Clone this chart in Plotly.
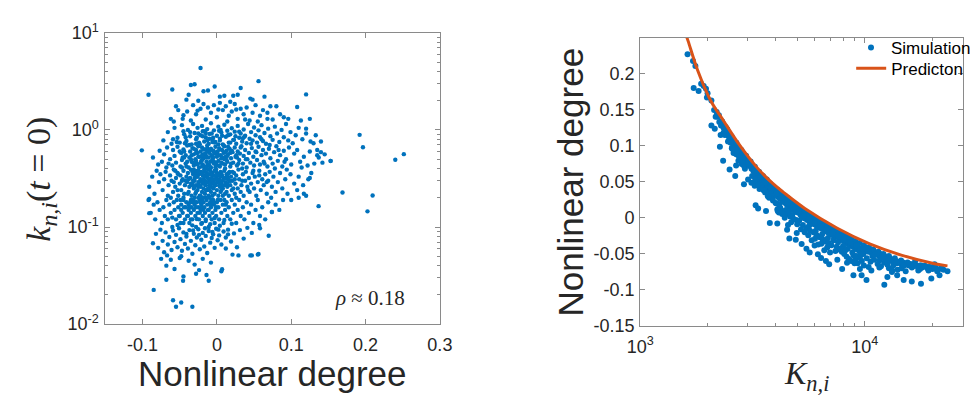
import plotly.graph_objects as go

# ---------------- Left panel: nonlinear degree vs k_{n,i}(t=0) ----------------
LEFT_POINTS = [
    # sparse top (k > 2)
    (-0.022, 4.34), (-0.092, 2.30), (0.056, 3.18), (0.120, 2.32), (-0.060, 2.61), (-0.035, 2.9), (-0.030, 2.95),
    (-0.003, 2.8), (-0.018, 2.5), (-0.012, 2.55), (0.032, 2.7), (0.028, 2.3), (0.045, 2.1), (0.064, 2.2),
    (0.004, 2.2), (0.010, 2.25), (-0.041, 2.05), (-0.038, 2.3), (0.022, 2.25), (-0.025, 2.0), (0.048, 2.05),
    # 1.2 - 2
    (-0.055, 1.75), (-0.052, 1.6), (-0.046, 1.3), (-0.040, 1.55), (-0.032, 1.8), (-0.028, 1.45), (-0.022, 1.65),
    (-0.018, 1.85), (-0.012, 1.7), (-0.008, 1.5), (-0.004, 1.8), (0.000, 1.35), (0.004, 1.9), (0.008, 1.6),
    (0.012, 1.75), (0.016, 1.4), (0.020, 1.55), (0.024, 1.85), (0.028, 1.3), (0.032, 1.65), (0.036, 1.45),
    (0.040, 1.7), (0.044, 1.25), (0.048, 1.5), (0.052, 1.8), (0.058, 1.4), (0.062, 1.6), (0.068, 1.3),
    (0.072, 1.75), (0.080, 1.75), (0.085, 1.45), (0.090, 1.35), (0.096, 1.3), (0.108, 1.72), (0.113, 1.25),
    (0.125, 1.3), (-0.062, 1.3), (-0.058, 1.22), (-0.035, 1.25), (-0.015, 1.28), (0.002, 1.62), (-0.026, 1.58),
    (0.014, 1.22), (0.026, 1.62), (0.038, 1.28), (0.055, 1.22), (-0.045, 1.42), (0.075, 1.28), (0.068, 1.5),
    (0.018, 1.95),
    # 0.7 - 1.2
    (-0.072, 0.78), (-0.066, 0.95), (-0.061, 0.72), (-0.057, 1.05), (-0.053, 0.83), (-0.050, 0.74), (-0.047, 1.12),
    (-0.044, 0.9), (-0.041, 0.77), (-0.039, 1.0), (-0.036, 0.86), (-0.034, 0.71), (-0.032, 1.15), (-0.030, 0.93),
    (-0.028, 0.8), (-0.026, 1.05), (-0.024, 0.74), (-0.022, 0.88), (-0.020, 1.1), (-0.019, 0.97), (-0.017, 0.76),
    (-0.015, 0.84), (-0.013, 1.02), (-0.011, 0.72), (-0.010, 0.91), (-0.008, 1.17), (-0.006, 0.8), (-0.004, 0.99),
    (-0.002, 0.75), (0.000, 0.87), (0.002, 1.08), (0.004, 0.78), (0.006, 0.94), (0.008, 0.71), (0.010, 1.13),
    (0.012, 0.85), (0.014, 0.98), (0.016, 0.74), (0.018, 0.9), (0.020, 1.04), (0.022, 0.79), (0.024, 0.96),
    (0.026, 0.72), (0.028, 1.1), (0.030, 0.83), (0.032, 0.92), (0.034, 0.76), (0.036, 1.01), (0.038, 0.87),
    (0.040, 0.73), (0.042, 1.15), (0.044, 0.81), (0.046, 0.95), (0.048, 0.78), (0.050, 1.06), (0.052, 0.88),
    (0.054, 0.74), (0.056, 0.99), (0.058, 0.84), (0.060, 1.12), (0.062, 0.77), (0.064, 0.93), (0.066, 0.72),
    (0.069, 1.03), (0.072, 0.86), (0.075, 0.79), (0.078, 1.08), (0.081, 0.92), (0.084, 0.75), (0.087, 1.0),
    (0.090, 0.84), (0.093, 1.15), (0.096, 0.78), (0.099, 0.95), (0.102, 0.73), (0.106, 0.88), (0.110, 1.05),
    (0.115, 0.8), (0.120, 0.92), (0.126, 0.76), (0.133, 0.88), (0.140, 0.76), (-0.025, 0.92), (-0.005, 0.83),
    (0.015, 0.88), (0.035, 0.82), (-0.045, 0.97), (0.005, 1.0), (0.025, 0.86), (-0.015, 0.93),
    # 0.4 - 0.7
    (-0.086, 0.52), (-0.079, 0.44), (-0.077, 0.61), (-0.074, 0.47), (-0.071, 0.56), (-0.068, 0.41), (-0.067, 0.66),
    (-0.063, 0.5), (-0.060, 0.43), (-0.059, 0.62), (-0.057, 0.54), (-0.055, 0.46), (-0.053, 0.67), (-0.049, 0.42),
    (-0.048, 0.58), (-0.047, 0.49), (-0.045, 0.63), (-0.042, 0.45), (-0.042, 0.55), (-0.040, 0.69), (-0.038, 0.41),
    (-0.037, 0.52), (-0.036, 0.6), (-0.034, 0.47), (-0.033, 0.65), (-0.031, 0.43), (-0.031, 0.56), (-0.029, 0.5),
    (-0.028, 0.62), (-0.027, 0.45), (-0.026, 0.58), (-0.025, 0.68), (-0.024, 0.41), (-0.023, 0.53), (-0.022, 0.6),
    (-0.021, 0.48), (-0.020, 0.66), (-0.019, 0.44), (-0.019, 0.56), (-0.018, 0.51), (-0.017, 0.63), (-0.016, 0.42),
    (-0.015, 0.55), (-0.014, 0.47), (-0.013, 0.6), (-0.013, 0.69), (-0.012, 0.44), (-0.011, 0.52), (-0.010, 0.58),
    (-0.009, 0.47), (-0.008, 0.64), (-0.008, 0.41), (-0.007, 0.55), (-0.006, 0.5), (-0.005, 0.61), (-0.004, 0.45),
    (-0.003, 0.57), (-0.002, 0.67), (-0.001, 0.43), (0.000, 0.53), (0.001, 0.6), (0.002, 0.48), (0.003, 0.65),
    (0.004, 0.42), (0.005, 0.55), (0.006, 0.51), (0.007, 0.62), (0.008, 0.45), (0.009, 0.58), (0.010, 0.68),
    (0.011, 0.44), (0.012, 0.53), (0.013, 0.61), (0.014, 0.47), (0.015, 0.56), (0.017, 0.64), (0.018, 0.42),
    (0.019, 0.51), (0.021, 0.59), (0.022, 0.46), (0.024, 0.66), (0.025, 0.53), (0.027, 0.43), (0.028, 0.6),
    (0.030, 0.49), (0.031, 0.57), (0.033, 0.68), (0.035, 0.45), (0.036, 0.54), (0.038, 0.62), (0.040, 0.41),
    (0.041, 0.5), (0.043, 0.58), (0.045, 0.46), (0.047, 0.65), (0.049, 0.53), (0.050, 0.43), (0.052, 0.6),
    (0.054, 0.49), (0.056, 0.67), (0.058, 0.44), (0.060, 0.55), (0.062, 0.62), (0.063, 0.47), (0.066, 0.57),
    (0.068, 0.42), (0.070, 0.64), (0.072, 0.51), (0.075, 0.45), (0.077, 0.59), (0.080, 0.68), (0.082, 0.48),
    (0.085, 0.55), (0.088, 0.42), (0.090, 0.61), (0.093, 0.5), (0.097, 0.66), (0.100, 0.44), (0.104, 0.57),
    (0.108, 0.62), (0.112, 0.47), (0.117, 0.53), (0.122, 0.43), (0.125, 0.6), (0.131, 0.45), (0.135, 0.55),
    (0.142, 0.46), (0.153, 0.48), (0.137, 0.52), (0.114, 0.41), (-0.035, 0.5), (-0.020, 0.54), (-0.005, 0.52),
    (0.010, 0.5), (0.026, 0.55), (-0.028, 0.48), (-0.012, 0.62), (0.004, 0.63), (0.018, 0.58), (-0.044, 0.52),
    # 0.2 - 0.4 (densest)
    (-0.091, 0.26), (-0.087, 0.33), (-0.084, 0.22), (-0.081, 0.38), (-0.078, 0.29), (-0.076, 0.35), (-0.073, 0.24),
    (-0.071, 0.31), (-0.069, 0.37), (-0.066, 0.21), (-0.065, 0.27), (-0.063, 0.34), (-0.061, 0.3), (-0.059, 0.23),
    (-0.058, 0.39), (-0.056, 0.26), (-0.055, 0.32), (-0.053, 0.36), (-0.052, 0.21), (-0.050, 0.28), (-0.049, 0.34),
    (-0.048, 0.24), (-0.046, 0.31), (-0.045, 0.38), (-0.044, 0.22), (-0.043, 0.27), (-0.041, 0.33), (-0.040, 0.29),
    (-0.039, 0.36), (-0.038, 0.23), (-0.037, 0.26), (-0.036, 0.32), (-0.035, 0.39), (-0.034, 0.21), (-0.033, 0.28),
    (-0.032, 0.35), (-0.031, 0.25), (-0.030, 0.3), (-0.029, 0.37), (-0.029, 0.22), (-0.028, 0.27), (-0.027, 0.33),
    (-0.026, 0.24), (-0.026, 0.38), (-0.025, 0.29), (-0.024, 0.35), (-0.023, 0.21), (-0.022, 0.26), (-0.022, 0.31),
    (-0.021, 0.37), (-0.020, 0.23), (-0.019, 0.28), (-0.019, 0.34), (-0.018, 0.25), (-0.017, 0.39), (-0.016, 0.3),
    (-0.016, 0.22), (-0.015, 0.27), (-0.014, 0.33), (-0.014, 0.36), (-0.013, 0.24), (-0.012, 0.29), (-0.011, 0.35),
    (-0.011, 0.21), (-0.010, 0.31), (-0.009, 0.26), (-0.009, 0.38), (-0.008, 0.23), (-0.007, 0.32), (-0.007, 0.28),
    (-0.006, 0.36), (-0.005, 0.25), (-0.004, 0.3), (-0.004, 0.34), (-0.003, 0.22), (-0.002, 0.27), (-0.001, 0.33),
    (-0.001, 0.39), (0.000, 0.24), (0.001, 0.29), (0.002, 0.35), (0.002, 0.21), (0.003, 0.31), (0.004, 0.26),
    (0.005, 0.37), (0.005, 0.23), (0.006, 0.28), (0.007, 0.34), (0.008, 0.25), (0.009, 0.32), (0.010, 0.38),
    (0.011, 0.22), (0.012, 0.29), (0.013, 0.35), (0.014, 0.26), (0.015, 0.31), (0.016, 0.21), (0.017, 0.37),
    (0.018, 0.27), (0.019, 0.33), (0.020, 0.24), (0.021, 0.3), (0.023, 0.36), (0.024, 0.22), (0.025, 0.28),
    (0.026, 0.34), (0.028, 0.25), (0.029, 0.39), (0.030, 0.31), (0.032, 0.23), (0.033, 0.27), (0.035, 0.35),
    (0.036, 0.21), (0.038, 0.3), (0.039, 0.37), (0.041, 0.26), (0.043, 0.32), (0.044, 0.23), (0.046, 0.28),
    (0.048, 0.36), (0.050, 0.25), (0.051, 0.33), (0.053, 0.21), (0.055, 0.29), (0.057, 0.38), (0.059, 0.24),
    (0.061, 0.31), (0.063, 0.27), (0.065, 0.35), (0.067, 0.22), (0.069, 0.3), (0.071, 0.37), (0.074, 0.26),
    (0.076, 0.33), (0.079, 0.23), (0.082, 0.29), (0.085, 0.36), (0.088, 0.25), (0.092, 0.31), (0.095, 0.22),
    (0.099, 0.35), (0.104, 0.28), (0.110, 0.33), (0.116, 0.27), (0.123, 0.31), (0.127, 0.36), (0.108, 0.24),
    (0.094, 0.39), (0.117, 0.22), (0.073, 0.20), (-0.030, 0.32), (-0.025, 0.26), (-0.020, 0.3), (-0.015, 0.34),
    (-0.010, 0.27), (-0.005, 0.29), (0.000, 0.31), (0.005, 0.33), (-0.035, 0.28), (-0.018, 0.31), (-0.012, 0.32),
    (-0.008, 0.3), (-0.003, 0.28), (0.003, 0.27), (0.008, 0.3), (-0.024, 0.29), (-0.042, 0.3), (0.012, 0.32),
    (-0.028, 0.35), (0.018, 0.3), (-0.006, 0.31), (-0.017, 0.28), (0.000, 0.36), (-0.010, 0.24), (-0.020, 0.36),
    (0.006, 0.24), (-0.032, 0.3), (0.014, 0.28), (-0.014, 0.29), (-0.004, 0.26),
    # 0.1 - 0.2
    (-0.092, 0.19), (-0.089, 0.14), (-0.085, 0.17), (-0.083, 0.12), (-0.080, 0.18), (-0.077, 0.15), (-0.074, 0.11),
    (-0.072, 0.16), (-0.070, 0.13), (-0.068, 0.19), (-0.066, 0.12), (-0.064, 0.17), (-0.062, 0.14), (-0.060, 0.10),
    (-0.058, 0.18), (-0.057, 0.15), (-0.055, 0.12), (-0.054, 0.19), (-0.052, 0.16), (-0.050, 0.13), (-0.049, 0.11),
    (-0.048, 0.17), (-0.046, 0.14), (-0.045, 0.19), (-0.043, 0.12), (-0.042, 0.16), (-0.041, 0.18), (-0.040, 0.13),
    (-0.038, 0.15), (-0.037, 0.11), (-0.036, 0.18), (-0.035, 0.14), (-0.034, 0.16), (-0.033, 0.12), (-0.032, 0.19),
    (-0.031, 0.15), (-0.030, 0.17), (-0.029, 0.13), (-0.028, 0.10), (-0.027, 0.18), (-0.026, 0.14), (-0.025, 0.16),
    (-0.024, 0.12), (-0.023, 0.19), (-0.022, 0.15), (-0.021, 0.17), (-0.020, 0.11), (-0.019, 0.13), (-0.018, 0.18),
    (-0.017, 0.16), (-0.016, 0.14), (-0.015, 0.12), (-0.014, 0.19), (-0.013, 0.17), (-0.012, 0.15), (-0.011, 0.10),
    (-0.010, 0.13), (-0.009, 0.18), (-0.008, 0.16), (-0.007, 0.12), (-0.006, 0.14), (-0.005, 0.19), (-0.004, 0.17),
    (-0.003, 0.11), (-0.002, 0.15), (-0.001, 0.13), (0.000, 0.18), (0.002, 0.16), (0.003, 0.12), (0.005, 0.19),
    (0.006, 0.14), (0.008, 0.17), (0.009, 0.11), (0.011, 0.15), (0.013, 0.18), (0.014, 0.13), (0.016, 0.16),
    (0.018, 0.12), (0.020, 0.19), (0.022, 0.14), (0.024, 0.17), (0.026, 0.11), (0.028, 0.15), (0.030, 0.19),
    (0.032, 0.13), (0.035, 0.16), (0.037, 0.12), (0.040, 0.18), (0.043, 0.14), (0.046, 0.17), (0.049, 0.11),
    (0.052, 0.15), (0.055, 0.19), (0.058, 0.13), (0.061, 0.16), (0.065, 0.12), (0.069, 0.18), (0.074, 0.143),
    (0.079, 0.17), (0.084, 0.15), (0.089, 0.19), (0.057, 0.105), (0.058, 0.097), (-0.091, 0.139), (-0.091, 0.194),
    (-0.030, 0.20), (-0.020, 0.19), (-0.010, 0.20), (-0.045, 0.20), (0.010, 0.19), (-0.035, 0.19), (-0.025, 0.20),
    (-0.015, 0.20), (-0.038, 0.17), (-0.028, 0.16), (-0.018, 0.15), (-0.008, 0.17), (-0.048, 0.15), (-0.022, 0.18),
    (-0.033, 0.18),
    # 0.05 - 0.1
    (-0.086, 0.068), (-0.082, 0.085), (-0.079, 0.061), (-0.076, 0.094), (-0.073, 0.072), (-0.071, 0.055),
    (-0.069, 0.088), (-0.066, 0.066), (-0.064, 0.079), (-0.061, 0.058), (-0.059, 0.092), (-0.057, 0.070),
    (-0.055, 0.083), (-0.053, 0.062), (-0.051, 0.097), (-0.049, 0.075), (-0.047, 0.057), (-0.045, 0.088),
    (-0.043, 0.067), (-0.041, 0.080), (-0.039, 0.060), (-0.037, 0.093), (-0.035, 0.072), (-0.033, 0.053),
    (-0.031, 0.085), (-0.029, 0.065), (-0.027, 0.078), (-0.025, 0.095), (-0.023, 0.059), (-0.021, 0.074),
    (-0.019, 0.087), (-0.017, 0.063), (-0.015, 0.081), (-0.013, 0.054), (-0.011, 0.091), (-0.009, 0.069),
    (-0.007, 0.077), (-0.005, 0.084), (-0.003, 0.061), (-0.001, 0.096), (0.001, 0.073), (0.003, 0.082),
    (0.006, 0.066), (0.009, 0.090), (0.012, 0.078), (0.015, 0.094), (0.019, 0.071), (0.023, 0.086),
    (0.027, 0.062), (0.031, 0.093), (0.036, 0.076), (0.041, 0.098), (0.047, 0.087), (0.021, 0.052),
    (0.029, 0.051), (0.045, 0.051), (0.055, 0.052), (-0.067, 0.051), (-0.048, 0.050), (0.012, 0.060),
    # below 0.05
    (-0.085, 0.0225), (-0.059, 0.0176), (-0.055, 0.0151), (-0.048, 0.0167), (-0.033, 0.0151), (-0.068, 0.0286),
    (-0.0455, 0.028), (-0.011, 0.028), (0.007, 0.0368), (-0.068, 0.040), (-0.057, 0.037), (-0.045, 0.031),
    (-0.038, 0.045), (-0.030, 0.041), (-0.024, 0.036), (-0.019, 0.047), (-0.014, 0.032), (-0.008, 0.043),
    (-0.062, 0.046), (-0.050, 0.048), (-0.028, 0.033), (0.006, 0.035), (-0.075, 0.047),
    # outliers
    (-0.101, 0.616), (0.192, 0.89), (0.1965, 0.664), (0.2515, 0.563), (0.240, 0.493), (0.169, 0.227),
    (0.2095, 0.211), (0.2026, 0.145), (0.1368, 0.164), (0.153, 0.478), (0.056, 0.0527), (0.0697, 0.0813),
    (0.047, 0.051), (0.074, 0.143), (0.120, 0.21), (0.110, 0.20), (0.100, 0.19), (0.125, 0.32), (0.140, 0.59),
    (0.145, 0.56), (0.130, 0.73), (0.120, 1.03), (0.135, 0.62),
    # extra core points
    (-0.047, 0.41), (-0.043, 0.73), (-0.039, 0.22), (-0.036, 0.95), (-0.033, 0.37), (-0.031, 0.64), (-0.029, 0.18),
    (-0.027, 0.83), (-0.026, 0.44), (-0.024, 0.27), (-0.023, 0.71), (-0.021, 0.16), (-0.020, 0.49), (-0.019, 0.86),
    (-0.017, 0.33), (-0.016, 0.57), (-0.015, 0.24), (-0.013, 0.78), (-0.012, 0.39), (-0.011, 0.15), (-0.009, 0.62),
    (-0.008, 0.35), (-0.007, 0.92), (-0.006, 0.21), (-0.004, 0.47), (-0.003, 0.74), (-0.002, 0.31), (0.000, 0.58),
    (0.001, 0.19), (0.003, 0.43), (0.004, 0.81), (0.006, 0.36), (0.007, 0.26), (0.009, 0.69), (0.011, 0.40),
    (0.012, 0.17), (0.014, 0.54), (0.016, 0.89), (0.017, 0.30), (0.019, 0.45), (-0.052, 0.35), (-0.049, 0.19),
    (-0.044, 0.60), (-0.041, 0.42), (-0.037, 0.16), (-0.034, 0.55), (-0.030, 0.26), (-0.028, 0.72), (-0.025, 0.38),
    (-0.022, 0.21), (-0.018, 0.63), (-0.014, 0.41), (-0.010, 0.81), (-0.005, 0.18), (-0.001, 0.46), (0.002, 0.71),
    (0.005, 0.29), (0.008, 0.52), (0.013, 0.23), (0.015, 0.67), (0.021, 0.37), (0.023, 0.79), (0.026, 0.20),
    (0.029, 0.45), (0.032, 0.66), (0.034, 0.30), (0.037, 0.85), (0.039, 0.50), (0.042, 0.24), (0.046, 0.72),
    (0.049, 0.38), (0.053, 0.59), (0.057, 0.34), (0.060, 0.80), (0.064, 0.45), (0.067, 0.29), (0.071, 0.70),
    (0.078, 0.40), (0.083, 0.62), (0.091, 0.47), (-0.058, 0.29), (-0.054, 0.75), (-0.051, 0.13), (-0.046, 0.52),
    (-0.042, 0.84), (-0.038, 0.31), (-0.035, 0.12), (-0.032, 0.46), (-0.028, 0.58), (-0.026, 0.33), (-0.023, 0.14),
    (-0.020, 0.42), (-0.017, 0.97), (-0.014, 0.52), (-0.012, 0.25), (-0.009, 0.40), (-0.006, 0.75), (-0.003, 0.38),
    (-0.001, 0.16), (0.002, 0.55), (0.004, 0.34), (0.007, 0.87), (0.010, 0.27), (0.013, 0.49), (0.016, 0.36),
    (0.020, 0.61), (0.024, 0.31), (0.027, 0.52), (0.030, 0.96), (0.034, 0.40), (-0.065, 0.45), (-0.062, 0.20),
    (-0.059, 0.80), (-0.056, 0.38), (-0.053, 0.24), (-0.050, 0.60), (-0.047, 0.30), (-0.044, 0.16), (-0.040, 0.47),
    (-0.037, 0.70), (-0.034, 0.27), (-0.031, 0.39), (-0.028, 0.23), (-0.025, 0.53), (-0.022, 0.46), (-0.019, 0.20),
    (-0.016, 0.37), (-0.013, 0.65), (-0.010, 0.43), (-0.007, 0.19), (-0.004, 0.60), (-0.002, 0.41), (0.001, 0.35),
    (0.003, 0.98), (0.006, 0.46), (0.008, 0.21), (0.011, 0.59), (0.014, 0.33), (0.018, 0.74), (0.022, 0.25),
    (-0.045, 0.110), (-0.039, 0.130), (-0.033, 0.104), (-0.027, 0.121), (-0.021, 0.108), (-0.015, 0.115),
    (-0.009, 0.107), (-0.003, 0.124), (0.004, 0.103), (0.010, 0.118), (-0.041, 0.085), (-0.032, 0.092),
    (-0.024, 0.083), (-0.016, 0.097), (-0.006, 0.089), (0.002, 0.094), (0.015, 0.084), (-0.053, 0.105),
    (-0.060, 0.125), (0.020, 0.108),
]
left_nd = [p[0] for p in LEFT_POINTS]
left_k = [p[1] for p in LEFT_POINTS]

# ---------------- Right panel: K_{n,i} vs nonlinear degree ----------------
RIGHT_POINTS = [
    # upper branch
    (1625, 0.227), (1718, 0.2175), (1761, 0.2106), (1730, 0.180), (1820, 0.1757), (1868, 0.1858), (1917, 0.1828),
    (1963, 0.179), (1995, 0.1727), (1982, 0.167), (2075, 0.1627), (2133, 0.1496), (2190, 0.1466), (2167, 0.140),
    (2240, 0.1423), (2075, 0.128), (2148, 0.1235), (2317, 0.1336), (2357, 0.127), (2280, 0.1149), (2437, 0.1227),
    (2478, 0.114), (2264, 0.0987), (2518, 0.105), (2560, 0.0966), (2604, 0.090), (2340, 0.079), (2692, 0.0879),
    (2737, 0.079), (2500, 0.067), (2673, 0.0726), (2829, 0.0748), (2926, 0.068), (2649, 0.058), (2897, 0.0465),
    (3022, 0.053), (3126, 0.0487), (3234, 0.0444), (3398, 0.040), (3632, 0.0379),
    (3265, 0.0174), (3350, 0.013), (3632, 0.0095), (3777, -0.007),
    # dense band 2200-3000
    (2210, 0.140), (2250, 0.133), (2290, 0.128), (2320, 0.131), (2350, 0.125), (2380, 0.121), (2400, 0.126),
    (2420, 0.117), (2450, 0.119), (2470, 0.113), (2500, 0.115), (2520, 0.108), (2540, 0.111), (2570, 0.104),
    (2600, 0.107), (2620, 0.101), (2650, 0.103), (2680, 0.097), (2700, 0.099), (2720, 0.094), (2750, 0.096),
    (2780, 0.090), (2800, 0.093), (2830, 0.087), (2860, 0.089), (2890, 0.083), (2920, 0.085), (2950, 0.079),
    (2980, 0.081), (3010, 0.075), (2460, 0.106), (2560, 0.097), (2660, 0.089), (2760, 0.084), (2870, 0.077),
    (2350, 0.118), (2600, 0.094), (2900, 0.072),
    # dense band 3000-4000
    (3040, 0.078), (3070, 0.072), (3100, 0.075), (3130, 0.068), (3160, 0.071), (3190, 0.065), (3220, 0.068),
    (3250, 0.061), (3280, 0.064), (3310, 0.058), (3340, 0.062), (3370, 0.055), (3400, 0.059), (3430, 0.052),
    (3460, 0.056), (3490, 0.049), (3520, 0.053), (3550, 0.047), (3580, 0.050), (3610, 0.044), (3640, 0.048),
    (3670, 0.041), (3700, 0.045), (3730, 0.039), (3760, 0.043), (3790, 0.036), (3820, 0.040), (3850, 0.034),
    (3880, 0.038), (3910, 0.031), (3150, 0.058), (3300, 0.050), (3450, 0.043), (3600, 0.035), (3750, 0.028),
    (3900, 0.024), (3250, 0.054), (3550, 0.038), (3350, 0.046), (3700, 0.030),
    # dense band 4000-5000
    (3950, 0.035), (4000, 0.032), (4050, 0.036), (4100, 0.029), (4150, 0.033), (4200, 0.026), (4250, 0.030),
    (4300, 0.023), (4350, 0.028), (4400, 0.021), (4450, 0.025), (4500, 0.018), (4550, 0.022), (4600, 0.016),
    (4650, 0.020), (4700, 0.013), (4760, 0.017), (4820, 0.011), (4880, 0.014), (4940, 0.008), (5000, 0.012),
    (4050, 0.020), (4200, 0.014), (4350, 0.009), (4500, 0.005), (4650, 0.002), (4800, -0.001), (4950, -0.003),
    (4150, 0.018), (4450, 0.011), (4750, 0.004), (4100, 0.009), (4400, 0.000), (4700, -0.006), (4550, -0.010),
    (4600, 0.009),
    # dense band 5000-7400
    (5060, 0.007), (5120, 0.010), (5180, 0.004), (5240, 0.008), (5300, 0.002), (5360, 0.005), (5420, -0.001),
    (5480, 0.003), (5540, -0.003), (5600, 0.000), (5670, -0.005), (5740, -0.002), (5810, -0.007), (5880, -0.004),
    (5950, -0.009), (6020, -0.006), (6100, -0.011), (6180, -0.008), (6260, -0.013), (6340, -0.010), (6420, -0.015),
    (6500, -0.012), (6580, -0.017), (6660, -0.014), (6740, -0.019), (6820, -0.016), (6900, -0.021), (6990, -0.018),
    (7080, -0.023), (7170, -0.020), (7260, -0.025), (7350, -0.022),
    (5100, -0.004), (5300, -0.010), (5500, -0.014), (5700, -0.018), (5900, -0.020), (6100, -0.024), (6300, -0.027),
    (6500, -0.030), (6700, -0.033), (6900, -0.035), (7100, -0.038), (5200, -0.016), (5600, -0.024), (6000, -0.029),
    (6400, -0.036), (6800, -0.041), (5400, -0.020), (5800, -0.031), (6200, -0.037), (6600, -0.045), (7000, -0.048),
    (5000, -0.009), (5250, 0.000), (5650, -0.011), (6050, -0.018), (6450, -0.023), (6850, -0.028), (7250, -0.031),
    # dense band 7400-10000
    (7450, -0.026), (7550, -0.023), (7650, -0.028), (7750, -0.025), (7850, -0.030), (7950, -0.027), (8050, -0.032),
    (8150, -0.029), (8250, -0.034), (8350, -0.031), (8450, -0.036), (8550, -0.033), (8650, -0.038), (8750, -0.035),
    (8850, -0.040), (8950, -0.037), (9050, -0.042), (9150, -0.039), (9250, -0.044), (9350, -0.041), (9450, -0.046),
    (9550, -0.043), (9650, -0.048), (9750, -0.045), (9850, -0.050), (9950, -0.047),
    (7500, -0.040), (7700, -0.044), (7900, -0.047), (8100, -0.050), (8300, -0.054), (8500, -0.057), (8700, -0.060),
    (8900, -0.052), (9100, -0.058), (9300, -0.063), (9500, -0.055), (9700, -0.060), (9900, -0.066), (7600, -0.034),
    (8000, -0.039), (8400, -0.043), (8800, -0.048), (9200, -0.053), (9600, -0.051), (7400, -0.046), (8200, -0.045),
    (9000, -0.063),
    # dense band 10000-23000
    (10100, -0.041), (10300, -0.045), (10500, -0.043), (10700, -0.048), (10900, -0.046), (11100, -0.050),
    (11300, -0.048), (11500, -0.052), (11700, -0.050), (11900, -0.054), (12100, -0.052), (12300, -0.056),
    (12500, -0.054), (12700, -0.058), (12900, -0.056), (13100, -0.060), (13300, -0.058), (13500, -0.062),
    (13700, -0.060), (13900, -0.063), (14200, -0.061), (14500, -0.064), (14800, -0.062), (15100, -0.065),
    (15400, -0.063), (15700, -0.066), (16000, -0.064), (16400, -0.067), (16800, -0.065), (17200, -0.068),
    (17600, -0.066), (18000, -0.069), (18500, -0.067), (19000, -0.070), (19500, -0.068), (20000, -0.071),
    (20600, -0.069), (21200, -0.072), (21800, -0.070), (22400, -0.072),
    (10200, -0.056), (10600, -0.061), (11000, -0.058), (11400, -0.064), (11800, -0.067), (12200, -0.062),
    (12800, -0.070), (13400, -0.066), (14000, -0.072), (10400, -0.068), (10800, -0.053), (11600, -0.059),
    (12600, -0.065), (13200, -0.075), (14600, -0.070), (15200, -0.074),
    # band hugging the prediction
    (2300, 0.134), (2420, 0.124), (2550, 0.113), (2680, 0.104), (2820, 0.094), (2960, 0.086), (3100, 0.078),
    (3240, 0.071), (3380, 0.064), (3520, 0.058), (3660, 0.053), (3800, 0.047), (3940, 0.042), (4080, 0.039),
    (4220, 0.035), (4380, 0.031), (4540, 0.027), (4700, 0.023), (4860, 0.019), (5040, 0.016), (5220, 0.012),
    (5420, 0.009), (5640, 0.005), (5860, 0.002), (6080, -0.002), (6320, -0.005), (6560, -0.008), (6820, -0.011),
    (7100, -0.014), (7380, -0.017), (7680, -0.020), (8000, -0.023), (8340, -0.026), (8700, -0.029), (9080, -0.032),
    (9480, -0.035), (9900, -0.038), (10400, -0.041), (10900, -0.044), (11500, -0.047), (12100, -0.050),
    (12800, -0.053), (13600, -0.056), (14500, -0.059), (15500, -0.062), (16600, -0.064), (17800, -0.066),
    (19100, -0.068), (20500, -0.069), (22000, -0.070),
    (2380, 0.115), (2530, 0.104), (2700, 0.093), (2870, 0.083), (3050, 0.074), (3230, 0.065), (3420, 0.057),
    (3620, 0.049), (3830, 0.042), (4050, 0.034), (4280, 0.028), (4520, 0.021), (4780, 0.015), (5060, 0.009),
    (5350, 0.003), (5660, -0.002), (6000, -0.007), (6360, -0.012), (6750, -0.017), (7160, -0.021), (7600, -0.026),
    (8080, -0.030), (8600, -0.034), (9160, -0.038), (9760, -0.043), (10400, -0.047), (11100, -0.051),
    (11900, -0.055), (12800, -0.059), (13800, -0.062), (14900, -0.066), (16200, -0.069), (17600, -0.071),
    (19200, -0.073), (21000, -0.074),
    # scattered low points
    (8897, -0.0797), (9510, -0.071), (9675, -0.0797), (10170, -0.0862), (10690, -0.0731), (11610, -0.0688),
    (12210, -0.0927), (12600, -0.0819), (13250, -0.0731), (13930, -0.0797), (14890, -0.0862), (16180, -0.0884),
    (17300, -0.0731), (17780, -0.0914), (19770, -0.084), (21500, -0.0797), (23330, -0.074), (18490, -0.0666),
    (20430, -0.0645), (16750, -0.060), (7925, -0.071), (8333, -0.0623), (7543, -0.058), (6940, -0.0645),
    (6712, -0.060), (6386, -0.0557), (6180, -0.0505), (5975, -0.0384), (5683, -0.048), (5496, -0.0427),
    (5232, -0.0362), (4977, -0.0209), (4927, -0.0305), (4614, -0.0287), (4508, -0.0166), (4078, -0.0078),
    (4287, 0.0052), (4147, 0.0073), (4078, 0.0117), (4009, 0.0204), (7797, -0.0427),
]
right_K = [p[0] for p in RIGHT_POINTS]
right_nd = [p[1] for p in RIGHT_POINTS]

pred_K = [1590, 1635, 1800, 2064, 2357, 2783, 3284, 3879, 4359, 5407, 7543, 10510, 14650, 20430, 23330]
pred_nd = [0.256, 0.245, 0.205, 0.162, 0.134, 0.100, 0.071, 0.048, 0.035, 0.013, -0.0144, -0.036, -0.052, -0.0636, -0.0666]

# tick labels
left_x_ticks = [-0.1, 0.0, 0.1, 0.2, 0.3]
left_x_labels = ["-0.1", "0", "0.1", "0.2", "0.3"]
left_y_ticks = [0.01, 0.1, 1, 10]
left_y_labels = ["10<sup>-2</sup>", "10<sup>-1</sup>", "10<sup>0</sup>", "10<sup>1</sup>"]
right_x_ticks = [1000, 10000]
right_x_labels = ["10<sup>3</sup>", "10<sup>4</sup>"]
right_y_ticks = [-0.15, -0.1, -0.05, 0.0, 0.05, 0.1, 0.15, 0.2]
right_y_labels = ["-0.15", "-0.1", "-0.05", "0", "0.05", "0.1", "0.15", "0.2"]

BLUE = "#0072BD"
ORANGE = "#D95319"
TXT = "#262626"
AX = "#8a8a8a"
SANS = "Liberation Sans, Arial, Helvetica, sans-serif"
SERIF = "Liberation Serif, Times New Roman, serif"
TICKFONT = dict(family=SANS, size=18, color=TXT)

W, H = 976, 406

fig = go.Figure()
fig.add_trace(go.Scatter(x=left_nd, y=left_k, mode="markers", xaxis="x", yaxis="y",
                         marker=dict(size=4.4, color=BLUE, line=dict(width=0)), showlegend=False))
fig.add_trace(go.Scatter(x=right_K, y=right_nd, mode="markers", xaxis="x2", yaxis="y2", name="Simulation",
                         marker=dict(size=6, color=BLUE, line=dict(width=0)), legend="legend"))
fig.add_trace(go.Scatter(x=pred_K, y=pred_nd, mode="lines", xaxis="x2", yaxis="y2", name="Predicton",
                         line=dict(color=ORANGE, width=3, shape="spline"), legend="legend2"))

common = dict(showline=True, linecolor=AX, linewidth=1, mirror="ticks", ticks="inside", ticklen=5,
              tickcolor=AX, showgrid=False, zeroline=False, tickfont=TICKFONT)

minor_log_left = [m * 10 ** e for e in (-2, -1, 0) for m in range(2, 10)]
minor_log_right = [m * 1000 for m in range(2, 10)] + [20000]

leg_common = dict(xanchor="left", yanchor="middle", bgcolor="rgba(0,0,0,0)", borderwidth=0,
                  font=dict(family=SANS, size=17, color="#000000"), itemwidth=30)

fig.update_layout(
    width=W, height=H, margin=dict(l=0, r=0, t=0, b=0),
    paper_bgcolor="white", plot_bgcolor="white",
    font=dict(family=SANS, size=18, color=TXT),
    xaxis=dict(domain=[94 / W, 438 / W], range=[-0.15, 0.3], tickmode="array",
               tickvals=left_x_ticks, ticktext=left_x_labels, anchor="y", ticklabelstandoff=4, **common),
    yaxis=dict(domain=[(H - 330) / H, (H - 22) / H], type="log", range=[-2, 1], tickmode="array",
               tickvals=left_y_ticks, ticktext=left_y_labels, anchor="x", ticklabelstandoff=2,
               minor=dict(tickmode="array", tickvals=minor_log_left, ticks="inside", ticklen=3, tickcolor=AX),
               **common),
    xaxis2=dict(domain=[644 / W, 1.0], type="log", range=[3, 4.437], tickmode="array",
                tickvals=right_x_ticks, ticktext=right_x_labels, anchor="y2", ticklabelstandoff=4,
                minor=dict(tickmode="array", tickvals=minor_log_right, ticks="inside", ticklen=3, tickcolor=AX),
                **common),
    yaxis2=dict(domain=[(H - 332) / H, (H - 27) / H], range=[-0.15, 0.25], tickmode="array",
                tickvals=right_y_ticks, ticktext=right_y_labels, anchor="x2", ticklabelstandoff=1, **common),
    showlegend=True,
    legend=dict(x=861 / W, y=(H - 38) / H, **leg_common),
    legend2=dict(x=861 / W, y=(H - 60) / H, **leg_common),
    annotations=[
        dict(text="<i>k</i><sub><i>n,i</i></sub>(<i>t</i> = 0)", x=28 / W, y=(H - 177) / H, xref="paper",
             yref="paper", showarrow=False, textangle=-90, xanchor="center", yanchor="middle",
             font=dict(family=SERIF, size=34, color=TXT)),
        dict(text="Nonlinear degree", x=266 / W, y=(H - 382) / H, xref="paper", yref="paper",
             showarrow=False, xanchor="center", yanchor="middle", font=dict(family=SANS, size=35, color=TXT)),
        dict(text="Nonlinear degree", x=572 / W, y=(H - 180) / H, xref="paper", yref="paper",
             showarrow=False, textangle=-90, xanchor="center", yanchor="middle",
             font=dict(family=SANS, size=35, color=TXT)),
        dict(text="<i>K</i><sub><i>n,i</i></sub>", x=815 / W, y=(H - 384) / H, xref="paper", yref="paper",
             showarrow=False, xanchor="center", yanchor="middle", font=dict(family=SERIF, size=32, color=TXT)),
        dict(text="<i>ρ</i> ≈ 0.18", x=366 / W, y=(H - 302) / H, xref="paper", yref="paper",
             showarrow=False, xanchor="center", yanchor="middle", font=dict(family=SERIF, size=21, color=TXT)),
    ],
)

fig.write_html("out.html")
